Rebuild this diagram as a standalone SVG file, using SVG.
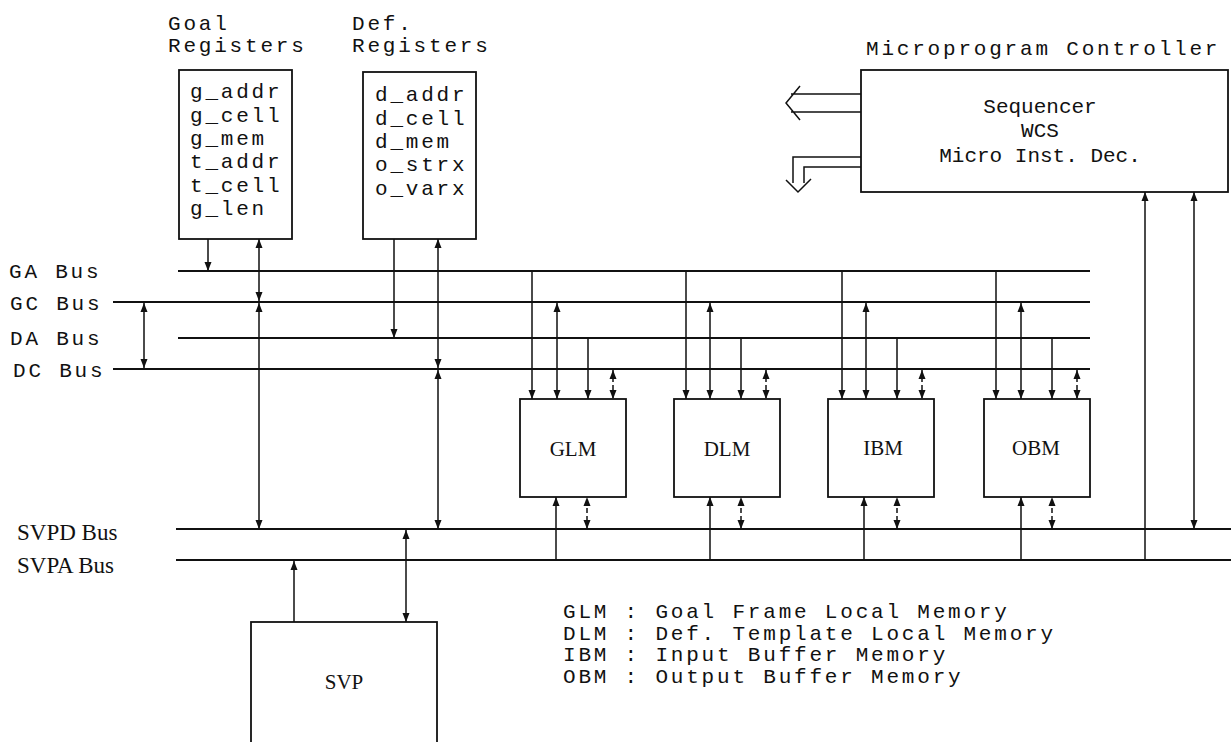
<svg xmlns="http://www.w3.org/2000/svg" xmlns:xlink="http://www.w3.org/1999/xlink" width="1231" height="742" viewBox="0 0 1231 742">
<style>
.tw{font-family:"Liberation Mono","Courier New",monospace;font-size:21px;letter-spacing:2.8px;fill:#111}
.sl{font-family:"Liberation Serif","Times New Roman",serif;font-size:21px;fill:#111;text-anchor:middle}
.sb{font-family:"Liberation Serif","Times New Roman",serif;font-size:23px;fill:#111}
.sm{font-family:"Liberation Mono","Courier New",monospace;font-size:21px;fill:#111}
.mid{text-anchor:middle}
.box{fill:none;stroke:#111;stroke-width:1.8}
.bus{stroke:#111;stroke-width:2.2;fill:none}
.ln{stroke:#111;stroke-width:1.5;fill:none}
.dl{stroke:#111;stroke-width:1.5;fill:none;stroke-dasharray:5 3}
.ah{fill:#111}
</style>
<defs>
<path id="ad" class="ah" d="M0,0 L-3.5,-9 L3.5,-9 Z"/>
<path id="au" class="ah" d="M0,0 L-3.5,9 L3.5,9 Z"/>
</defs>
<rect width="1231" height="742" fill="#fff"/>

<g id="goal-registers">
<text class="tw" x="168" y="30">Goal</text>
<text class="tw" x="168" y="52">Registers</text>
<rect class="box" x="179" y="70" width="113" height="169"/>
<text class="tw" x="190" y="98">g_addr</text>
<text class="tw" x="190" y="121.5">g_cell</text>
<text class="tw" x="190" y="145">g_mem</text>
<text class="tw" x="190" y="168">t_addr</text>
<text class="tw" x="190" y="191.5">t_cell</text>
<text class="tw" x="190" y="215">g_len</text>
</g>

<g id="def-registers">
<text class="tw" x="352" y="30">Def.</text>
<text class="tw" x="352" y="52">Registers</text>
<rect class="box" x="363" y="72" width="113" height="167"/>
<text class="tw" x="375" y="101">d_addr</text>
<text class="tw" x="375" y="124.5">d_cell</text>
<text class="tw" x="375" y="148">d_mem</text>
<text class="tw" x="375" y="171">o_strx</text>
<text class="tw" x="375" y="194.5">o_varx</text>
</g>

<g id="microprogram-controller">
<text class="tw" x="866" y="55">Microprogram Controller</text>
<rect class="box" x="861" y="70" width="367" height="122"/>
<text class="sm mid" x="1040" y="113">Sequencer</text>
<text class="sm mid" x="1040" y="137">WCS</text>
<text class="sm mid" x="1040" y="162">Micro Inst. Dec.</text>
</g>

<g id="bus-labels">
<text class="tw" x="9" y="278">GA Bus</text>
<text class="tw" x="10" y="310">GC Bus</text>
<text class="tw" x="10" y="345">DA Bus</text>
<text class="tw" x="13" y="377">DC Bus</text>
<text class="sb" x="17" y="540">SVPD Bus</text>
<text class="sb" x="17" y="573">SVPA Bus</text>
</g>

<g id="glm"><rect class="box" x="520" y="399" width="106" height="98"/><text class="sl" x="573" y="456">GLM</text></g>
<g id="dlm"><rect class="box" x="674" y="399" width="106" height="98"/><text class="sl" x="727" y="456">DLM</text></g>
<g id="ibm"><rect class="box" x="828" y="399" width="106" height="98"/><text class="sl" x="883" y="455">IBM</text></g>
<g id="obm"><rect class="box" x="984" y="399" width="106" height="98"/><text class="sl" x="1036" y="455">OBM</text></g>

<g id="svp"><rect class="box" x="251" y="622" width="186" height="140"/><text class="sl" x="344" y="689">SVP</text></g>

<g id="legend">
<text class="tw" x="563" y="618">GLM : Goal Frame Local Memory</text>
<text class="tw" x="563" y="639.5">DLM : Def. Template Local Memory</text>
<text class="tw" x="563" y="661">IBM : Input Buffer Memory</text>
<text class="tw" x="563" y="683">OBM : Output Buffer Memory</text>
</g>

<g id="connectors">
<path class="bus" d="M178,271 H1090 M113,302 H1090 M178,338 H1090 M113,369 H1090 M176,529 H1231 M176,560 H1231"/>
<path class="ln" d="M208,239 V271 M259,239 V529 M144,302 V369 M394,239 V338 M438,239 V529"/>
<use href="#ad" x="208" y="271"/>
<use href="#au" x="259" y="239"/><use href="#ad" x="259" y="301"/><use href="#au" x="259" y="303"/><use href="#ad" x="259" y="529"/>
<use href="#au" x="144" y="303"/><use href="#ad" x="144" y="368"/>
<use href="#ad" x="394" y="338"/>
<use href="#au" x="438" y="239"/><use href="#ad" x="438" y="368"/><use href="#au" x="438" y="370"/><use href="#ad" x="438" y="529"/>
<path class="ln" d="M1145,192 V560 M1194,192 V529"/>
<use href="#au" x="1145" y="192"/><use href="#au" x="1194" y="192"/><use href="#ad" x="1194" y="529"/>
<path class="ln" d="M861,94 H791 M861,112 H791 M800,86 L786,103 L800,120"/>
<path class="ln" d="M861,157 H793 V183 M861,167 H804 V183 M786,180 L798,192 L811,179"/>
<path class="ln" d="M294,622 V560 M406,622 V529"/>
<use href="#au" x="294" y="561"/><use href="#au" x="406" y="530"/><use href="#ad" x="406" y="622"/>
<path class="ln" d="M532,271 V399 M557,302 V399 M588,338 V399 M556,560 V497"/>
<path class="dl" d="M613,369 V399 M587,529 V497"/>
<use href="#ad" x="532" y="399"/><use href="#au" x="557" y="303"/><use href="#ad" x="557" y="399"/><use href="#ad" x="588" y="399"/>
<use href="#au" x="613" y="370"/><use href="#ad" x="613" y="399"/>
<use href="#au" x="556" y="497"/><use href="#au" x="587" y="497"/><use href="#ad" x="587" y="529"/>
<path class="ln" d="M686,271 V399 M710,302 V399 M741,338 V399 M710,560 V497"/>
<path class="dl" d="M766,369 V399 M741,529 V497"/>
<use href="#ad" x="686" y="399"/><use href="#au" x="710" y="303"/><use href="#ad" x="710" y="399"/><use href="#ad" x="741" y="399"/>
<use href="#au" x="766" y="370"/><use href="#ad" x="766" y="399"/>
<use href="#au" x="710" y="497"/><use href="#au" x="741" y="497"/><use href="#ad" x="741" y="529"/>
<path class="ln" d="M842,271 V399 M866,302 V399 M897,338 V399 M864,560 V497"/>
<path class="dl" d="M922,369 V399 M897,529 V497"/>
<use href="#ad" x="842" y="399"/><use href="#au" x="866" y="303"/><use href="#ad" x="866" y="399"/><use href="#ad" x="897" y="399"/>
<use href="#au" x="922" y="370"/><use href="#ad" x="922" y="399"/>
<use href="#au" x="864" y="497"/><use href="#au" x="897" y="497"/><use href="#ad" x="897" y="529"/>
<path class="ln" d="M996,271 V399 M1021,302 V399 M1052,338 V399 M1021,560 V497"/>
<path class="dl" d="M1077,369 V399 M1052,529 V497"/>
<use href="#ad" x="996" y="399"/><use href="#au" x="1021" y="303"/><use href="#ad" x="1021" y="399"/><use href="#ad" x="1052" y="399"/>
<use href="#au" x="1077" y="370"/><use href="#ad" x="1077" y="399"/>
<use href="#au" x="1021" y="497"/><use href="#au" x="1052" y="497"/><use href="#ad" x="1052" y="529"/>
</g>
</svg>
